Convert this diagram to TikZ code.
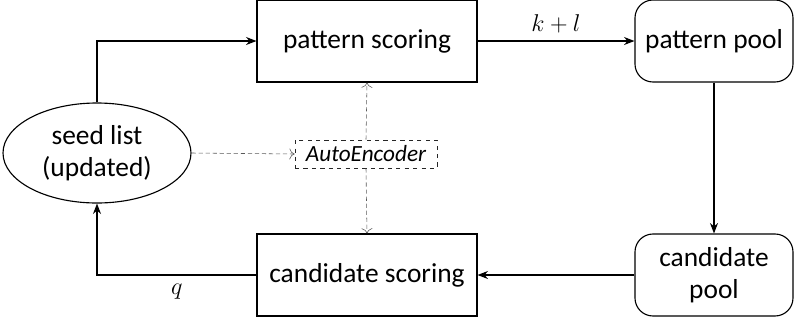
\documentclass[tikz,border=0pt]{standalone}
\usepackage{fontspec}
\setmainfont{Carlito}
\usetikzlibrary{arrows.meta,shapes.geometric}
\tikzset{
  sbox/.style={draw=black,thick,minimum width=5.5cm,minimum height=2.05cm,font=\fontsize{19.5}{23}\selectfont},     % scoring box
  pbox/.style={draw=black,thick,rounded corners=0.45cm,minimum width=3.95cm,minimum height=2.05cm,align=center,font=\fontsize{19.5}{23}\selectfont},% pool box
  seed/.style={ellipse,draw=black,thick,minimum width=4.7cm,minimum height=2.5cm,inner sep=0pt,align=center,font=\fontsize{19.5}{23}\selectfont},
  enc/.style={draw=black!85,dashed,semithick,minimum width=3.55cm,minimum height=0.7cm,inner sep=1pt,font=\fontsize{16.5}{18}\selectfont\itshape},
  flow/.style={-{Stealth[length=2.6mm,width=2mm]},thick},
  aux/.style={-{To[length=1.3mm]},densely dashed,thin,black!65},
}

\begin{document}
\begin{tikzpicture}
  \useasboundingbox (0,0) rectangle (19.875,-8.075);
  \node[sbox] (pscore) at (9.175,-1.025) {pattern scoring};
  \node[pbox] (ppool) at (17.85,-1.025) {pattern pool};
  \node[pbox] (cpool) at (17.85,-6.875) {candidate\\pool};
  \node[sbox] (cscore) at (9.175,-6.875) {candidate scoring};
  \node[seed] (seed) at (2.425,-3.825) {seed list\\(updated)};
  \node[enc] (ae) at (9.15,-3.85) {AutoEncoder};
  % main loop
  \draw[flow] (seed.north) |- (pscore.west);
  \draw[flow] (pscore.east) -- node[above=2pt,font=\fontsize{19}{22}\selectfont] (kl) {$k+l$} (ppool.west);
  \draw[flow] (ppool.south) -- (cpool.north);
  \draw[flow] (cpool.west) -- (cscore.east);
  \draw[flow] (cscore.west) -| node[pos=0.25,below=3pt,font=\fontsize{19}{22}\selectfont] (q) {$q$} (seed.south);
  % encoder links
  \draw[aux] (seed.east) -- (ae.west);
  \draw[aux] (ae.north) -- (pscore.south);
  \draw[aux] (ae.south) -- (cscore.north);
\end{tikzpicture}
\end{document}
